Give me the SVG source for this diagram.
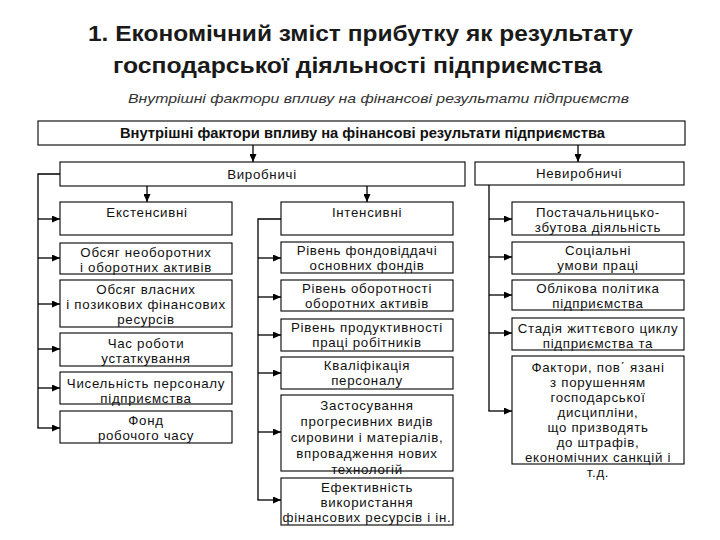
<svg xmlns="http://www.w3.org/2000/svg" width="720" height="540" viewBox="0 0 720 540">
<defs>
<style>
.box{fill:#fff;stroke:#000;stroke-width:1.1}
.t{font-family:"Liberation Sans",Arial,sans-serif;font-size:13.3px;letter-spacing:0.7px;text-anchor:middle;fill:#111}
.c{stroke:#000;stroke-width:1.3;fill:none}
.title{font-family:"Liberation Sans",Arial,sans-serif;font-size:22px;font-weight:bold;text-anchor:middle;fill:#1a1a1a}
.sub{font-family:"Liberation Sans",Arial,sans-serif;font-size:13px;font-style:italic;fill:#333}
.hd{font-family:"Liberation Sans",Arial,sans-serif;font-size:14px;font-weight:bold;fill:#111}
</style>
<marker id="ah" markerUnits="userSpaceOnUse" markerWidth="8" markerHeight="7" refX="8" refY="3.5" orient="auto">
<path d="M0,0 L8,3.5 L0,7 z" fill="#000"/>
</marker>
</defs>
<rect width="720" height="540" fill="#fff"/>

<g id="title">
<text class="title" x="360.5" y="41" textLength="545" lengthAdjust="spacingAndGlyphs">1. Економічний зміст прибутку як результату</text>
<text class="title" x="357.5" y="73" textLength="489" lengthAdjust="spacingAndGlyphs">господарської діяльності підприємства</text>
<text class="sub" x="128" y="103" textLength="501" lengthAdjust="spacingAndGlyphs">Внутрішні фактори впливу на фінансові результати підприємств</text>
</g>

<g id="connectors">
<line class="c" x1="253" y1="145" x2="253" y2="162" marker-end="url(#ah)"/>
<line class="c" x1="578" y1="145" x2="578" y2="162" marker-end="url(#ah)"/>
<line class="c" x1="147" y1="186" x2="147" y2="202" marker-end="url(#ah)"/>
<line class="c" x1="367" y1="186" x2="367" y2="202" marker-end="url(#ah)"/>
<polyline class="c" points="60,174 38,174 38,428"/>
<line class="c" x1="38" y1="219" x2="60" y2="219" marker-end="url(#ah)"/>
<line class="c" x1="38" y1="258" x2="60" y2="258" marker-end="url(#ah)"/>
<line class="c" x1="38" y1="304" x2="60" y2="304" marker-end="url(#ah)"/>
<line class="c" x1="38" y1="349" x2="60" y2="349" marker-end="url(#ah)"/>
<line class="c" x1="38" y1="388" x2="60" y2="388" marker-end="url(#ah)"/>
<line class="c" x1="37.4" y1="428" x2="60" y2="428" marker-end="url(#ah)"/>
<polyline class="c" points="281,219 258,219 258,500"/>
<line class="c" x1="258" y1="258" x2="281" y2="258" marker-end="url(#ah)"/>
<line class="c" x1="258" y1="297" x2="281" y2="297" marker-end="url(#ah)"/>
<line class="c" x1="258" y1="335" x2="281" y2="335" marker-end="url(#ah)"/>
<line class="c" x1="258" y1="373" x2="281" y2="373" marker-end="url(#ah)"/>
<line class="c" x1="258" y1="432" x2="281" y2="432" marker-end="url(#ah)"/>
<line class="c" x1="257.4" y1="500" x2="281" y2="500" marker-end="url(#ah)"/>
<polyline class="c" points="489,185 489,411"/>
<line class="c" x1="489" y1="219" x2="512" y2="219" marker-end="url(#ah)"/>
<line class="c" x1="489" y1="257" x2="512" y2="257" marker-end="url(#ah)"/>
<line class="c" x1="489" y1="295" x2="512" y2="295" marker-end="url(#ah)"/>
<line class="c" x1="489" y1="333" x2="512" y2="333" marker-end="url(#ah)"/>
<line class="c" x1="488.4" y1="411" x2="512" y2="411" marker-end="url(#ah)"/>
</g>

<g id="top">
<rect class="box" x="38" y="121" width="647" height="24"/>
<text class="hd" x="120" y="138" textLength="485" lengthAdjust="spacingAndGlyphs">Внутрішні фактори впливу на фінансові результати підприємства</text>
</g>

<g id="vyrobnychi">
<rect class="box" x="60" y="162" width="405" height="24"/>
<text class="t" x="262" y="179">Виробничі</text>
</g>
<g id="nevyrobnychi">
<rect class="box" x="475" y="162" width="209" height="23"/>
<text class="t" x="579" y="178">Невиробничі</text>
</g>

<g id="ekstensyvni">
<rect class="box" x="60" y="202" width="172" height="33"/>
<text class="t" x="147" y="217">Екстенсивні</text>
</g>
<g id="l1">
<rect class="box" x="60" y="243" width="172" height="31"/>
<text class="t" x="146" y="257">Обсяг необоротних</text>
<text class="t" x="146" y="272">і оборотних активів</text>
</g>
<g id="l2">
<rect class="box" x="60" y="280" width="172" height="47"/>
<text class="t" x="146" y="294">Обсяг власних</text>
<text class="t" x="146" y="309">і позикових фінансових</text>
<text class="t" x="146" y="324">ресурсів</text>
</g>
<g id="l3">
<rect class="box" x="60" y="333" width="172" height="33"/>
<text class="t" x="146" y="348">Час роботи</text>
<text class="t" x="146" y="363">устаткування</text>
</g>
<g id="l4">
<rect class="box" x="60" y="372" width="172" height="32"/>
<text class="t" x="146" y="388">Чисельність персоналу</text>
<text class="t" x="146" y="403">підприємства</text>
</g>
<g id="l5">
<rect class="box" x="60" y="411" width="172" height="32"/>
<text class="t" x="146" y="425">Фонд</text>
<text class="t" x="146" y="440">робочого часу</text>
</g>

<g id="intensyvni">
<rect class="box" x="281" y="202" width="172" height="33"/>
<text class="t" x="367" y="217">Інтенсивні</text>
</g>
<g id="m1">
<rect class="box" x="281" y="242" width="172" height="31"/>
<text class="t" x="367" y="255">Рівень фондовіддачі</text>
<text class="t" x="367" y="270">основних фондів</text>
</g>
<g id="m2">
<rect class="box" x="281" y="280" width="172" height="31"/>
<text class="t" x="367" y="293">Рівень оборотності</text>
<text class="t" x="367" y="308">оборотних активів</text>
</g>
<g id="m3">
<rect class="box" x="281" y="319" width="172" height="32"/>
<text class="t" x="367" y="332">Рівень продуктивності</text>
<text class="t" x="367" y="347">праці робітників</text>
</g>
<g id="m4">
<rect class="box" x="281" y="357" width="172" height="32"/>
<text class="t" x="367" y="370">Кваліфікація</text>
<text class="t" x="367" y="385">персоналу</text>
</g>
<g id="m5">
<rect class="box" x="281" y="395" width="172" height="76"/>
<text class="t" x="367" y="410">Застосування</text>
<text class="t" x="367" y="426">прогресивних видів</text>
<text class="t" x="367" y="442">сировини і матеріалів,</text>
<text class="t" x="367" y="458">впровадження нових</text>
<text class="t" x="367" y="474">технологій</text>
</g>
<g id="m6">
<rect class="box" x="281" y="478" width="172" height="47"/>
<text class="t" x="367" y="492">Ефективність</text>
<text class="t" x="367" y="507">використання</text>
<text class="t" x="367" y="522">фінансових ресурсів і ін.</text>
</g>

<g id="r1">
<rect class="box" x="512" y="202" width="172" height="33"/>
<text class="t" x="598" y="217">Постачальницько-</text>
<text class="t" x="598" y="232">збутова діяльність</text>
</g>
<g id="r2">
<rect class="box" x="512" y="242" width="172" height="32"/>
<text class="t" x="598" y="255">Соціальні</text>
<text class="t" x="598" y="270">умови праці</text>
</g>
<g id="r3">
<rect class="box" x="512" y="280" width="172" height="30"/>
<text class="t" x="598" y="293">Облікова політика</text>
<text class="t" x="598" y="308">підприємства</text>
</g>
<g id="r4">
<rect class="box" x="512" y="318" width="172" height="32"/>
<text class="t" x="598" y="333">Стадія життєвого циклу</text>
<text class="t" x="598" y="348">підприємства та</text>
</g>
<g id="r5">
<rect class="box" x="512" y="356" width="172" height="108"/>
<text class="t" x="598" y="372">Фактори, пов΄ язані</text>
<text class="t" x="598" y="387">з порушенням</text>
<text class="t" x="598" y="402">господарської</text>
<text class="t" x="598" y="417">дисципліни,</text>
<text class="t" x="598" y="432">що призводять</text>
<text class="t" x="598" y="447">до штрафів,</text>
<text class="t" x="598" y="462">економічних санкцій і</text>
<text class="t" x="598" y="477">т.д.</text>
</g>
</svg>
